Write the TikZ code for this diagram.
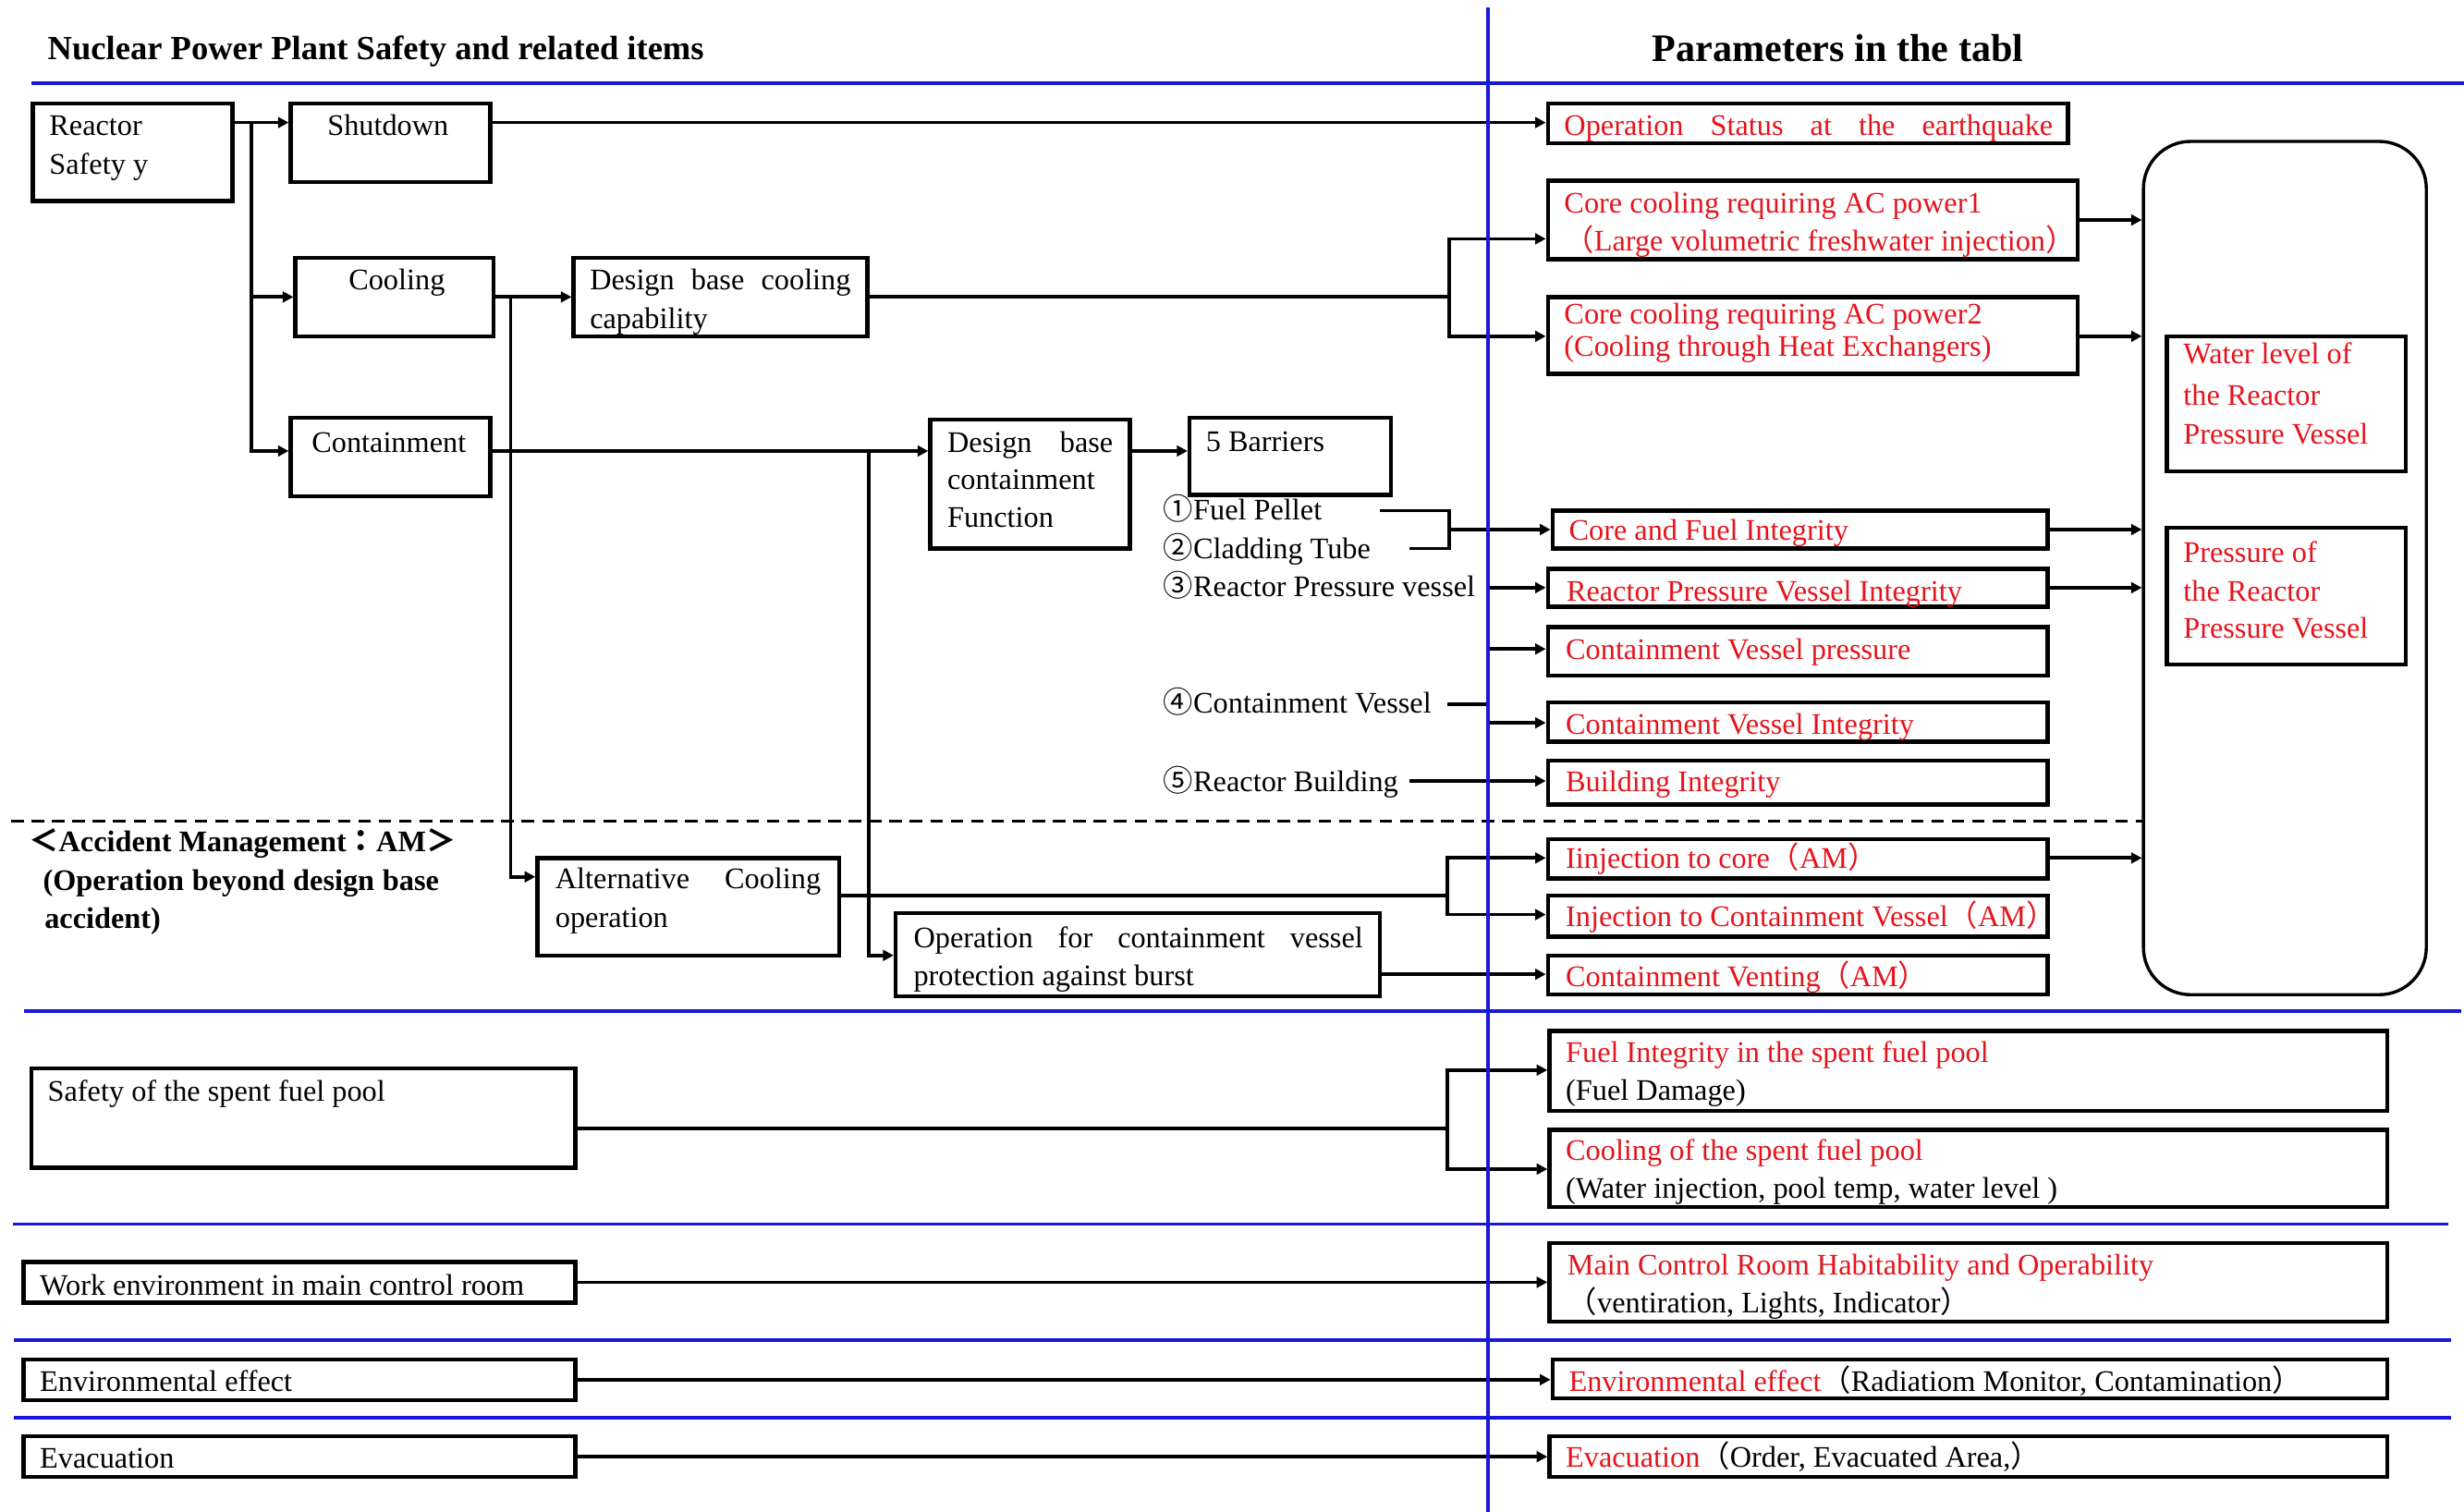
\documentclass[tikz,border=0pt]{standalone}
\usepackage{fontspec}
\setmainfont{Liberation Serif}
\newfontfamily\cjkf{Noto Sans CJK JP}
\usetikzlibrary{arrows.meta}
\definecolor{rtext}{RGB}{228,20,28}
\definecolor{sepblue}{RGB}{24,24,220}
\newcommand\fs{\fontsize{9.5pt}{12pt}\selectfont}
\newcommand\fw[1]{{\cjkf #1}}
\newcommand\jus[2]{\makebox[#1][s]{#2}}
\newcommand\mkbox[6][]{\node[bx,#1,minimum width={(#5-#3)*0.5pt},minimum height={(#6-#4)*0.5pt}] (#2) at ({(#3+#5)/2},{(#4+#6)/2}) {};}
\newcommand\mktx[5][]{\node[tx,#1] (#2) at (#3,#4) {#5};}
\begin{document}
\begin{tikzpicture}[x=0.5pt,y=-0.5pt,
  bx/.style={draw,line width=1.3pt,inner sep=0pt},
  tx/.style={inner sep=0pt,anchor=base west,font=\fs},
  rt/.style={text=rtext},
  ln/.style={line width=1.1pt},
  conn/.style={ln,-{Triangle[length=3.4pt,width=3.4pt]}},
  sep/.style={draw=sepblue,line width=1.1pt}]
\useasboundingbox (0,0) rectangle (1568,962);

% ---------- headers
\mktx[font=\fontsize{10.75pt}{13pt}\selectfont\bfseries]{h1}{30}{38}{Nuclear Power Plant Safety and related items}
\mktx[font=\fontsize{12.4pt}{15pt}\selectfont\bfseries]{h2}{1051}{39}{Parameters in the tabl}

% ---------- left boxes
\mkbox{rs}{21}{66}{148}{128}
\mkbox{sd}{185}{66}{312}{116}
\mkbox{cl}{188}{164}{314}{214}
\mkbox{ct}{185}{266}{312}{316}
\mkbox{dbc}{365}{164}{552}{214}
\mkbox{dbcf}{592}{267}{719}{349}
\mkbox{b5}{757}{266}{885}{315}
\mkbox{alt}{342}{546}{534}{608}
\mkbox{opcv}{570}{581}{878}{634}
\mkbox{sfp}{20}{680}{366}{743}
\mkbox{we}{15}{803}{366}{829}
\mkbox{ee}{15}{865}{366}{891}
\mkbox{ev}{15}{914}{366}{940}

% ---------- right boxes
\mkbox{opst}{985}{66}{1316}{91}
\mkbox{cc1}{985}{115}{1322}{165}
\mkbox{cc2}{985}{189}{1322}{238}
\mkbox{cfi}{988}{325}{1303}{349}
\mkbox{rpvi}{985}{362}{1303}{386}
\mkbox{cvp}{985}{399}{1303}{430}
\mkbox{cvi}{985}{447}{1303}{472}
\mkbox{bi}{985}{484}{1303}{512}
\mkbox{inj}{985}{534}{1303}{559}
\mkbox{injcv}{985}{570}{1303}{596}
\mkbox{vent}{985}{608}{1303}{633}
\mkbox[rounded corners=15pt,line width=1pt]{rb}{1364}{90}{1544}{633}
\mkbox{wl}{1379}{214}{1531}{300}
\mkbox{pr}{1379}{336}{1531}{423}
\mkbox{fisfp}{986}{656}{1519}{707}
\mkbox{csfp}{986}{719}{1519}{768}
\mkbox{mcr}{986}{791}{1519}{841}
\mkbox{env}{988}{865}{1519}{890}
\mkbox{evr}{986}{914}{1519}{940}

% ---------- left texts
\mktx{rs1}{31}{86.3}{Reactor}
\mktx{rs2}{31}{110.8}{Safety y}
\mktx{sd1}{208}{86.3}{Shutdown}
\mktx{cl1}{221.5}{184.3}{Cooling}
\mktx{ct1}{198}{288}{Containment}
\mktx{dbc1}{375}{184.3}{\jus{83pt}{Design base cooling}}
\mktx{dbc2}{375}{208.8}{capability}
\mktx{dbcf1}{602.5}{287.8}{\jus{52.7pt}{Design base}}
\mktx{dbcf2}{602.5}{311.5}{containment}
\mktx{dbcf3}{602.5}{335.6}{Function}
\mktx{b51}{767}{287.3}{5 Barriers}
\mktx{i1}{740}{331}{\fw{①}Fuel Pellet}
\mktx{i2}{740}{355.6}{\fw{②}Cladding Tube}
\mktx{i3}{740}{379.7}{\fw{③}Reactor Pressure vessel}
\mktx{i4}{740}{453.8}{\fw{④}Containment Vessel}
\mktx{i5}{740}{503.6}{\fw{⑤}Reactor Building}
\mktx[font=\fs\bfseries]{am1}{18}{542}{\fw{＜}Accident Management\fw{：}AM\fw{＞}}
\mktx[font=\fs\bfseries]{am2}{27}{566.6}{\jus{126pt}{(Operation beyond design base}}
\mktx[font=\fs\bfseries]{am3}{28}{591}{accident)}
\mktx{alt1}{353}{565.7}{\jus{84.5pt}{Alternative Cooling}}
\mktx{alt2}{353}{590.2}{operation}
\mktx{opcv1}{581}{603}{\jus{143pt}{Operation for containment vessel}}
\mktx{opcv2}{581}{627.5}{protection against burst}
\mktx{sfp1}{30}{701}{Safety of the spent fuel pool}
\mktx{we1}{25}{824}{Work environment in main control room}
\mktx{ee1}{25}{885.6}{Environmental effect}
\mktx{ev1}{25}{934.5}{Evacuation}

% ---------- right texts
\mktx[rt]{opst1}{995}{86.3}{\jus{155.5pt}{Operation Status at the earthquake}}
\mktx[rt]{cc11}{995}{135.3}{Core cooling requiring AC power1}
\mktx[rt]{cc12}{995}{159.8}{\fw{（}Large volumetric freshwater injection\fw{）}}
\mktx[rt]{cc21}{995}{206.3}{Core cooling requiring AC power2}
\mktx[rt]{cc22}{995}{226.5}{(Cooling through Heat Exchangers)}
\mktx[rt]{wl1}{1389}{231.3}{Water level of}
\mktx[rt]{wl2}{1389}{257.8}{the Reactor}
\mktx[rt]{wl3}{1389}{282.4}{Pressure Vessel}
\mktx[rt]{pr1}{1389}{357.6}{Pressure of}
\mktx[rt]{pr2}{1389}{382.4}{the Reactor}
\mktx[rt]{pr3}{1389}{406}{Pressure Vessel}
\mktx[rt]{cfi1}{998}{344}{Core and Fuel Integrity}
\mktx[rt]{rpvi1}{996.5}{382.4}{Reactor Pressure Vessel Integrity}
\mktx[rt]{cvp1}{996}{419.5}{Containment Vessel pressure}
\mktx[rt]{cvi1}{996}{467}{Containment Vessel Integrity}
\mktx[rt]{bi1}{996}{503.5}{Building Integrity}
\mktx[rt]{inj1}{996}{552.6}{Iinjection to core\fw{（}AM\fw{）}}
\mktx[rt]{injcv1}{996}{589.8}{Injection to Containment Vessel\fw{（}AM\fw{）}}
\mktx[rt]{vent1}{996}{628}{Containment Venting\fw{（}AM\fw{）}}
\mktx[rt]{fisfp1}{996}{676}{Fuel Integrity in the spent fuel pool}
\mktx{fisfp2}{996}{700}{(Fuel Damage)}
\mktx[rt]{csfp1}{996}{738.5}{Cooling of the spent fuel pool}
\mktx{csfp2}{996}{762.5}{(Water injection, pool temp, water level )}
\mktx[rt]{mcr1}{997}{811.5}{Main Control Room Habitability and Operability}
\mktx{mcr2}{997}{835.5}{\fw{（}ventiration, Lights, Indicator\fw{）}}
\mktx{env1}{998}{885.2}{{\color{rtext}Environmental effect}\fw{（}Radiatiom Monitor, Contamination\fw{）}}
\mktx{evr1}{996}{933.5}{{\color{rtext}Evacuation}\fw{（}Order, Evacuated Area,\fw{）}}

% ---------- connectors
\coordinate (ja) at (160,78);
\draw[conn] (rs.east |- 0,78) -- (sd.west |- 0,78);
\draw[conn] (ja) |- (cl.west |- 0,189);
\draw[conn] (ja) |- (ct.west |- 0,287);
\draw[conn] (sd.east |- 0,78) -- (opst.west |- 0,78);
\coordinate (jb) at (325,189);
\draw[conn] (cl.east |- 0,189) -- (dbc.west |- 0,189);
\draw[conn] (jb) |- (alt.west |- 0,558);
\coordinate (jc) at (922,189);
\draw[ln] (dbc.east |- jc) -- (jc);
\draw[conn] (jc) |- (cc1.west |- 0,152);
\draw[conn] (jc) |- (cc2.west |- 0,214);
\coordinate (jd) at (553,287);
\draw[conn] (ct.east |- 0,287) -- (dbcf.west |- 0,287);
\draw[conn] (jd) |- (opcv.west |- 0,608);
\draw[conn] (dbcf.east |- 0,287) -- (b5.west |- 0,287);
\coordinate (k1) at (878,325);
\coordinate (k2) at (897,349);
\coordinate (je) at (922,337);
\draw[ln] (k1) -| (je) |- (k2);
\draw[conn] (je) -- (cfi.west |- je);
\coordinate (k3) at (948,374);
\draw[conn] (k3) -- (rpvi.west |- k3);
\coordinate (k4) at (921,448);
\coordinate (jf) at (947,448);
\draw[ln] (k4) -- (jf);
\draw[conn] (jf) |- (cvp.west |- 0,413);
\draw[conn] (jf) |- (cvi.west |- 0,460);
\coordinate (k5) at (897,497);
\draw[conn] (k5) -- (bi.west |- k5);
\coordinate (jg) at (921,570);
\draw[ln] (alt.east |- jg) -- (jg);
\draw[conn] (jg) |- (inj.west |- 0,546);
\draw[conn] (jg) |- (injcv.west |- 0,582);
\draw[conn] (opcv.east |- 0,620) -- (vent.west |- 0,620);
\draw[conn] (cc1.east |- 0,140) -- (rb.west |- 0,140);
\draw[conn] (cc2.east |- 0,214) -- (rb.west |- 0,214);
\draw[conn] (cfi.east |- 0,337) -- (rb.west |- 0,337);
\draw[conn] (rpvi.east |- 0,374) -- (rb.west |- 0,374);
\draw[conn] (inj.east |- 0,546) -- (rb.west |- 0,546);
\coordinate (jh) at (921,718);
\draw[ln] (sfp.east |- jh) -- (jh);
\draw[conn] (jh) |- (fisfp.west |- 0,681);
\draw[conn] (jh) |- (csfp.west |- 0,744);
\draw[conn] (we.east |- 0,816) -- (mcr.west |- 0,816);
\draw[conn] (ee.east |- 0,878) -- (env.west |- 0,878);
\draw[conn] (ev.east |- 0,927) -- (evr.west |- 0,927);

% ---------- separators
\draw[ln,dash pattern=on 4pt off 2.5pt] (7,522.5) -- (1364,522.5);
\draw[sep] (20,53) -- (1568,53);
\draw[sep] (15,643.5) -- (1566,643.5);
\draw[sep] (8,779) -- (1558,779);
\draw[sep] (9,853) -- (1560,853);
\draw[sep] (9,902) -- (1560,902);
\draw[sep] (947,5) -- (947,962);
\end{tikzpicture}
\end{document}
